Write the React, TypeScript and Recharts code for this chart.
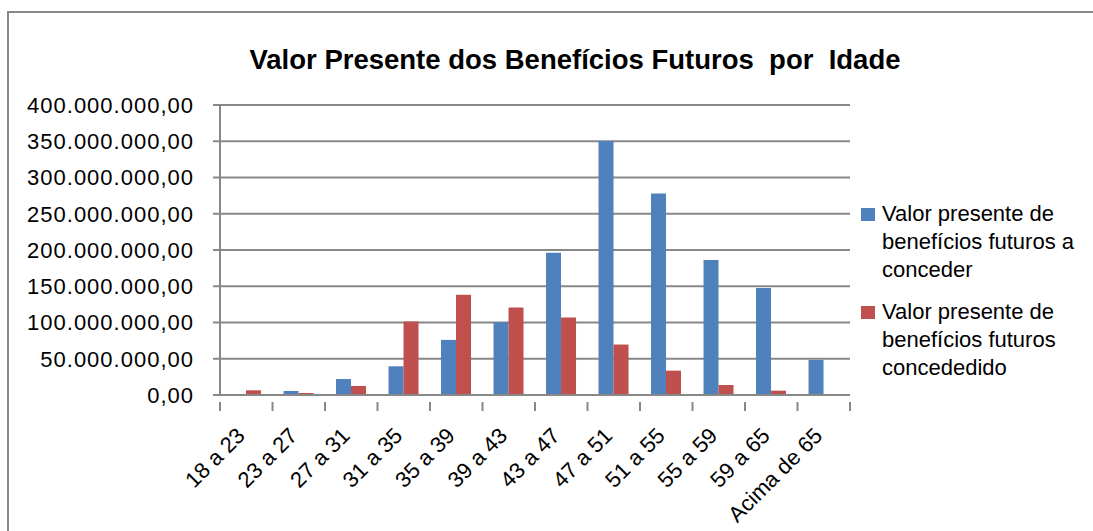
import React from "react";
import { BarChart, Bar, XAxis, YAxis, CartesianGrid } from "recharts";

const categories = ["18 a 23", "23 a 27", "27 a 31", "31 a 35", "35 a 39", "39 a 43", "43 a 47", "47 a 51", "51 a 55", "55 a 59", "59 a 65", "Acima de 65"];
const aConceder = [0, 5500000, 22000000, 39600000, 76000000, 100500000, 196300000, 350200000, 277900000, 186200000, 147500000, 48400000];
const concedido = [6500000, 2800000, 12400000, 101400000, 138200000, 120700000, 106900000, 69600000, 33600000, 13800000, 6000000, 1400000];
const yTicks = [0, 50000000, 100000000, 150000000, 200000000, 250000000, 300000000, 350000000, 400000000];
const seriesNames = ["Valor presente de benefícios futuros a conceder", "Valor presente de benefícios futuros concededido"];
const legendLines = [["Valor presente de", "benefícios futuros a", "conceder"], ["Valor presente de", "benefícios futuros", "concededido"]];

const data = categories.map((c, i) => ({ cat: c, a: aConceder[i], b: concedido[i] }));

const BLUE = "#4F81BD";
const RED = "#C0504D";
const GRID = "#888888";
const FONT = "'Liberation Sans', Arial, sans-serif";

const fmt = (v: number) => {
  const s = Math.round(v).toString();
  const withDots = s.replace(/\B(?=(\d{3})+(?!\d))/g, ".");
  return withDots + ",00";
};

const CHART_W = 1093;
const CHART_H = 531;
const M_TOP = 105;
const M_RIGHT = 243;
const Y_W = 220;
const X_H = 136;
const HALF = (CHART_W - M_RIGHT - Y_W) / categories.length / 2;

const XTick = (props: any) => {
  const { x, y, payload, index } = props;
  const ty = y + 34;
  return (
    <g>
      <line x1={x - HALF} y1={y - 1} x2={x - HALF} y2={y + 8} stroke={GRID} strokeWidth={2} />
      {index === categories.length - 1 && (
        <line x1={x + HALF} y1={y - 1} x2={x + HALF} y2={y + 8} stroke={GRID} strokeWidth={2} />
      )}
      <text
        x={x}
        y={ty}
        transform={`rotate(-45, ${x}, ${ty})`}
        textAnchor="end"
        fontFamily={FONT}
        fontSize={22}
        fill="#000"
      >
        {payload.value}
      </text>
    </g>
  );
};

const LegendBox = () => (
  <div
    style={{
      position: "absolute",
      left: 861,
      top: 200,
      fontFamily: FONT,
      fontSize: 22,
      color: "#000",
      lineHeight: "28px",
    }}
  >
    {legendLines.map((lines, i) => (
      <div key={i} style={{ position: "relative", paddingLeft: 21, marginBottom: i === 0 ? 14 : 0 }}>
        <div style={{ position: "absolute", left: 0, top: 8, width: 14, height: 13, background: i === 0 ? BLUE : RED }} />
        {lines.map((l, j) => (
          <div key={j} style={{ whiteSpace: "nowrap" }}>{l}</div>
        ))}
      </div>
    ))}
  </div>
);

export default function App() {
  return (
    <div style={{ position: "absolute", left: 0, top: 0, width: CHART_W, height: CHART_H, overflow: "hidden", background: "#fff" }}>
      <div style={{ position: "absolute", left: 7, top: 11, width: 1200, height: 600, border: `2px solid ${GRID}` }} />
      <div
        style={{
          position: "absolute",
          left: 0,
          width: 1150,
          top: 44,
          textAlign: "center",
          fontFamily: FONT,
          fontWeight: "bold",
          fontSize: 27.5,
          color: "#000",
        }}
      >
        Valor Presente dos Benefícios Futuros&nbsp; por&nbsp; Idade
      </div>
      <div style={{ position: "absolute", left: 0, top: 0 }}>
        <BarChart
          width={CHART_W}
          height={CHART_H}
          data={data}
          margin={{ top: M_TOP, right: M_RIGHT, left: 0, bottom: 0 }}
          barCategoryGap="21%"
          barGap={0}
        >
          <CartesianGrid vertical={false} stroke={GRID} strokeWidth={2} />
          <XAxis
            dataKey="cat"
            height={X_H}
            interval={0}
            tickLine={false}
            axisLine={{ stroke: GRID, strokeWidth: 2 }}
            tick={<XTick />}
          />
          <YAxis
            width={Y_W}
            domain={[0, 400000000]}
            ticks={yTicks}
            tickFormatter={fmt}
            interval={0}
            axisLine={{ stroke: GRID, strokeWidth: 2 }}
            tickLine={{ stroke: GRID, strokeWidth: 2 }}
            tickSize={7}
            tickMargin={19}
            tick={{ fontFamily: FONT, fontSize: 22, fill: "#000", letterSpacing: 1 }}
          />
          <Bar dataKey="a" name={seriesNames[0]} fill={BLUE} isAnimationActive={false} />
          <Bar dataKey="b" name={seriesNames[1]} fill={RED} isAnimationActive={false} />
        </BarChart>
      </div>
      <LegendBox />
    </div>
  );
}
